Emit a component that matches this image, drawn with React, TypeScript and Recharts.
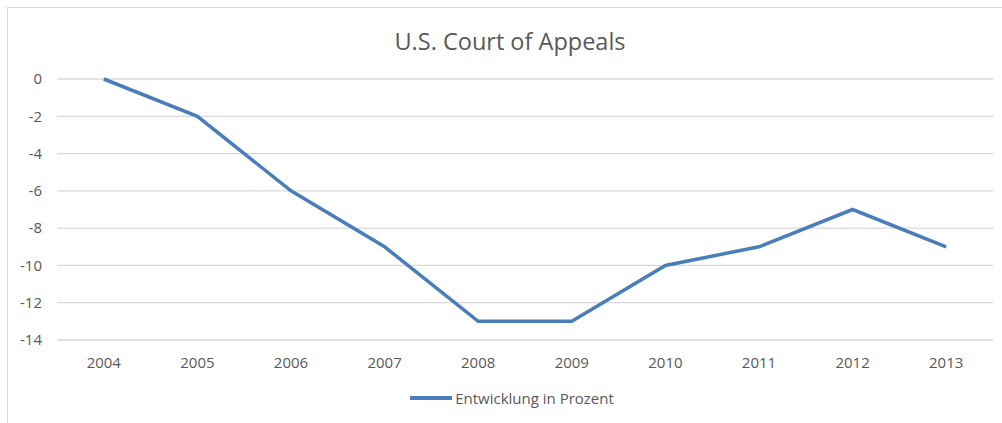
import { LineChart, Line, XAxis, YAxis, CartesianGrid, Legend } from "recharts";

const years = ["2004", "2005", "2006", "2007", "2008", "2009", "2010", "2011", "2012", "2013"];
const entwicklung = [0, -2, -6, -9, -13, -13, -10, -9, -7, -9];
const yTicks = [0, -2, -4, -6, -8, -10, -12, -14];

const chartData = years.map((year, i) => ({ year, value: entwicklung[i] }));

const FONT = "'Open Sans', sans-serif";
const TEXT = "#595959";
const LINE = "#4a7ebb";

const LegendContent = () => (
  <div style={{ display: "flex", alignItems: "center", justifyContent: "center", fontFamily: FONT, fontSize: 15, color: TEXT }}>
    <svg width={42} height={6} style={{ marginRight: 3 }}>
      <line x1={1} y1={3} x2={41} y2={3} stroke={LINE} strokeWidth={4} strokeLinecap="round" />
    </svg>
    <span>Entwicklung in Prozent</span>
  </div>
);

export default function App() {
  return (
    <div style={{ position: "absolute", left: 0, top: 0, width: 1002, height: 423, background: "#fff", overflow: "hidden" }}>
      <div style={{ position: "absolute", left: 7, top: 7, width: 1010, height: 430, border: "1px solid #d9d9d9" }} />
      <div
        style={{
          position: "absolute",
          left: 0,
          top: 25,
          width: 1020,
          textAlign: "center",
          fontFamily: FONT,
          fontSize: 23.5,
          color: TEXT,
        }}
      >
        U.S. Court of Appeals
      </div>
      <div style={{ position: "absolute", left: 0, top: 0 }}>
        <LineChart width={1002} height={423} data={chartData} margin={{ top: 79, right: 9, left: 0, bottom: 0 }}>
          <CartesianGrid horizontal vertical={false} stroke="#d9d9d9" strokeWidth={1.3} />
          <XAxis
            dataKey="year"
            axisLine={false}
            tickLine={false}
            height={63}
            tickMargin={11}
            padding={{ left: 46.8, right: 46.8 }}
            tick={{ fontFamily: FONT, fontSize: 15, fill: TEXT }}
          />
          <YAxis
            width={57}
            domain={[-14, 0]}
            ticks={yTicks}
            axisLine={false}
            tickLine={false}
            tickMargin={9}
            tick={{ fontFamily: FONT, fontSize: 15, fill: TEXT }}
          />
          <Legend content={<LegendContent />} wrapperStyle={{ top: 388, left: 0, width: 1024 }} />
          <Line
            type="linear"
            dataKey="value"
            stroke={LINE}
            strokeWidth={3.5}
            dot={false}
            isAnimationActive={false}
          />
        </LineChart>
      </div>
    </div>
  );
}
